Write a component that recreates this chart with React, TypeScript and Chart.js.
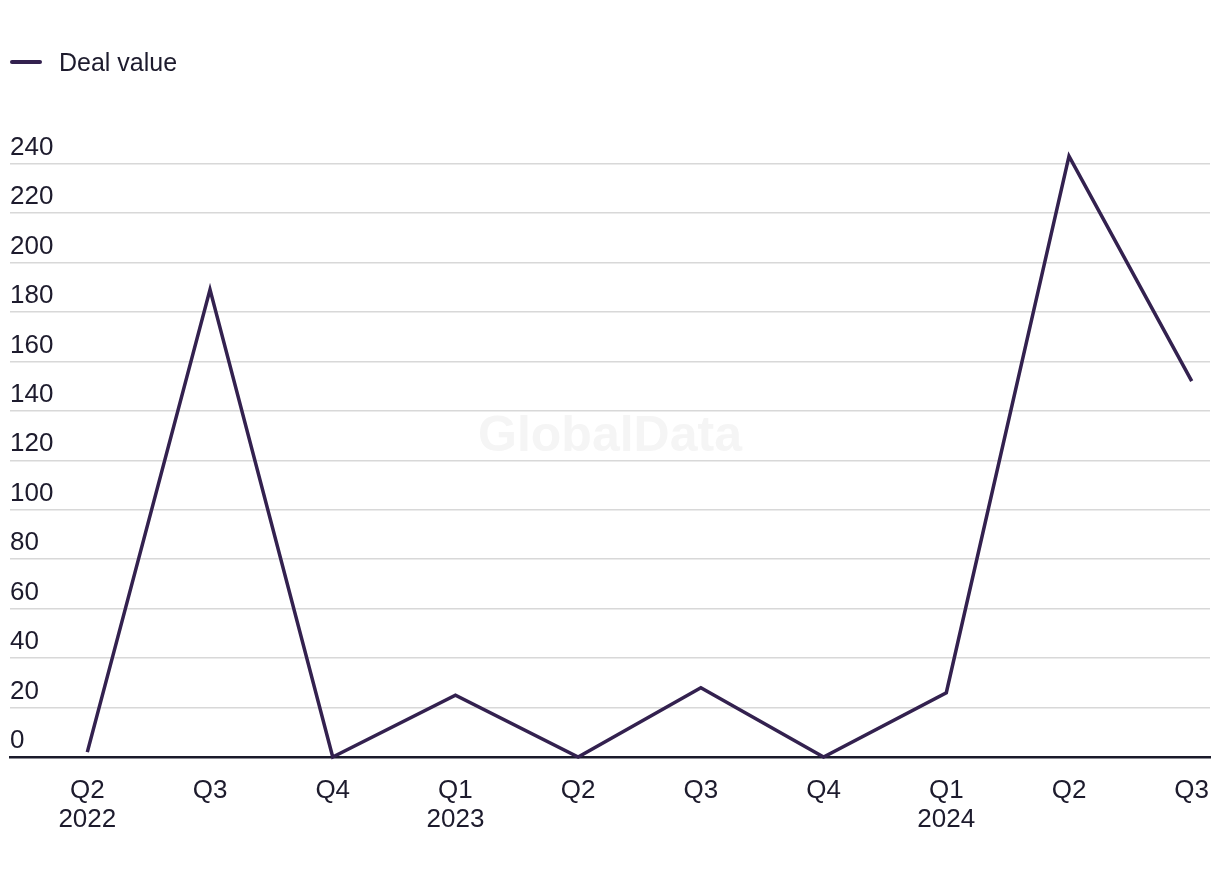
import React, { useEffect, useRef } from 'react';
import { Chart, registerables } from 'chart.js';

Chart.register(...registerables);

const quarters = ['Q2', 'Q3', 'Q4', 'Q1', 'Q2', 'Q3', 'Q4', 'Q1', 'Q2', 'Q3'];
const years = ['2022', '', '', '2023', '', '', '', '2024', '', ''];
const dealValues = [2, 189, 0, 25, 0, 28, 0, 26, 243, 152];
const yTickValues = [0, 20, 40, 60, 80, 100, 120, 140, 160, 180, 200, 220, 240];
const seriesLabel = 'Deal value';
const watermarkText = 'GlobalData';

const FONT = "'Liberation Sans', Arial, Helvetica, sans-serif";
const LINE_COLOR = '#33214f';
const TEXT_COLOR = '#1d1b2d';

const watermarkPlugin = {
  id: 'watermark',
  beforeDatasetsDraw(chart: any) {
    const { ctx, chartArea } = chart;
    ctx.save();
    ctx.font = `bold 50px ${FONT}`;
    ctx.fillStyle = '#f5f5f5';
    ctx.textAlign = 'center';
    ctx.textBaseline = 'middle';
    const x = (chartArea.left + chartArea.right) / 2;
    const y = chartArea.top + (chartArea.bottom - chartArea.top) * 0.461;
    ctx.fillText(watermarkText, x, y);
    ctx.restore();
  },
};

export default function App() {
  const canvasRef = useRef<HTMLCanvasElement | null>(null);

  useEffect(() => {
    if (!canvasRef.current) return;
    const chart = new Chart(canvasRef.current, {
      type: 'line',
      data: {
        datasets: [
          {
            label: seriesLabel,
            data: dealValues.map((v, i) => ({ x: i, y: v })),
            borderColor: LINE_COLOR,
            backgroundColor: LINE_COLOR,
            borderWidth: 3.5,
            pointRadius: 0,
            pointHoverRadius: 0,
            tension: 0,
            clip: false as any,
          },
        ],
      },
      options: {
        animation: false,
        responsive: true,
        maintainAspectRatio: false,
        layout: { padding: { top: 155.5, left: 2, right: 2, bottom: 17 } },
        plugins: {
          legend: { display: false },
          tooltip: { enabled: false },
        },
        scales: {
          x: {
            type: 'linear',
            min: -0.63,
            max: 9.149,
            afterBuildTicks: (axis: any) => {
              axis.ticks = quarters.map((_, i) => ({ value: i }));
            },
            afterFit: (axis: any) => {
              axis.paddingLeft = 0;
              axis.paddingRight = 0;
            },
            grid: { display: false, drawTicks: false },
            border: { display: true, color: '#1a1a2b', width: 2.5 },
            ticks: {
              autoSkip: false,
              maxRotation: 0,
              minRotation: 0,
              padding: 19,
              color: TEXT_COLOR,
              font: { family: FONT, size: 26, lineHeight: 1.115 },
              callback: (value: any) => {
                const i = Math.round(Number(value));
                return years[i] ? [quarters[i], years[i]] : quarters[i];
              },
            },
          },
          y: {
            type: 'linear',
            min: 0,
            max: 240,
            afterBuildTicks: (axis: any) => {
              axis.ticks = yTickValues.map((v) => ({ value: v }));
            },
            grid: {
              drawTicks: false,
              lineWidth: 1.5,
              color: (ctx: any) => (ctx.tick && ctx.tick.value === 0 ? 'rgba(0,0,0,0)' : '#d8d8d8'),
            },
            border: { display: false },
            ticks: {
              mirror: true,
              padding: 0,
              labelOffset: -16,
              color: TEXT_COLOR,
              font: { family: FONT, size: 26 },
            },
          },
        },
      },
      plugins: [watermarkPlugin],
    });
    return () => chart.destroy();
  }, []);

  return (
    <div style={{ position: 'relative', width: 1204, height: 862 }}>
      <div
        style={{
          position: 'absolute',
          left: 2,
          top: 39,
          height: 30,
          display: 'flex',
          alignItems: 'center',
          fontFamily: FONT,
          fontSize: 25,
          color: TEXT_COLOR,
          zIndex: 1,
        }}
      >
        <span
          style={{
            display: 'inline-block',
            width: 32,
            height: 4,
            borderRadius: 2,
            background: LINE_COLOR,
            marginRight: 17,
          }}
        />
        <span>{seriesLabel}</span>
      </div>
      <canvas ref={canvasRef} style={{ display: 'block', width: '100%', height: '100%' }} />
    </div>
  );
}
